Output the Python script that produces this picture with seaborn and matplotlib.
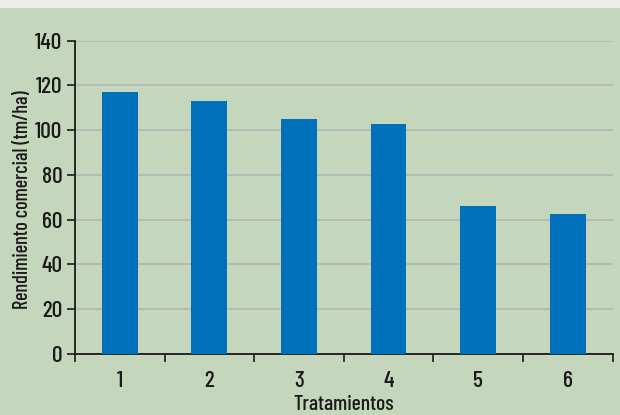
import matplotlib
matplotlib.use("Agg")
import matplotlib.pyplot as plt
import seaborn as sns
import pandas as pd
import numpy as np

categories = ["1", "2", "3", "4", "5", "6"]
values = [117.1, 113.2, 105.0, 102.8, 66.1, 62.6]
y_ticks = [0, 20, 40, 60, 80, 100, 120, 140]

BG = "#C4D6BC"
BAR = "#0070BA"
GRID = "#B3BAB3"
INK = "#1a1a1a"

sns.set_theme(style="white")
plt.rcParams["font.family"] = ["Barlow Condensed", "Roboto Condensed", "DejaVu Sans"]
plt.rcParams["font.weight"] = 500
plt.rcParams["axes.labelweight"] = 500

df = pd.DataFrame({"Tratamientos": categories, "valor": values})

fig = plt.figure(figsize=(6.2, 4.15), dpi=100)
fig.patch.set_facecolor(BG)
fig.patches.append(plt.Rectangle((0, 1 - 8 / 415), 1, 8 / 415, transform=fig.transFigure,
                                 facecolor="#ECEDE8", edgecolor="none", zorder=0))

ax = fig.add_axes([75 / 620, 1 - 354 / 415, (612.5 - 75) / 620, (354 - 40.7) / 415])
ax.set_facecolor(BG)

sns.barplot(data=df, x="Tratamientos", y="valor", color=BAR, width=0.4,
            saturation=1, ax=ax, zorder=3, linewidth=0, edgecolor=BAR)

ax.set_ylim(0, 140)
ax.set_xlim(-0.5, 5.5)
ax.set_yticks(y_ticks)
ax.set_yticklabels([str(t) for t in y_ticks])
ax.yaxis.grid(True, color=GRID, linewidth=1.3, zorder=0)
ax.set_axisbelow(True)

ax.set_xticks(np.arange(len(categories)))
ax.set_xticklabels(categories)
ax.tick_params(axis="x", which="major", length=0, labelsize=17, pad=12, colors=INK)
ax.set_xticks(np.arange(-0.5, len(categories), 1.0), minor=True)
ax.tick_params(axis="x", which="minor", length=6, width=1.2, color=INK, direction="out", bottom=True)
ax.tick_params(axis="y", length=6, width=1.2, color=INK, direction="out", left=True,
               labelsize=17, pad=3, colors=INK)

for s in ["top", "right"]:
    ax.spines[s].set_visible(False)
for s in ["left", "bottom"]:
    ax.spines[s].set_color(INK)
    ax.spines[s].set_linewidth(1.3)

ax.set_xlabel("Tratamientos", fontsize=15.5, color=INK, va="center")
ax.xaxis.set_label_coords(0.5, (354 - 404) / 313.3)
ax.set_ylabel("Rendimiento comercial (tm/ha)", fontsize=14.5, color=INK, va="center")
ax.yaxis.set_label_coords((23 - 75) / 537.5, (354 - 200) / 313.3)

fig.savefig("out.png", dpi=100, facecolor=BG)
